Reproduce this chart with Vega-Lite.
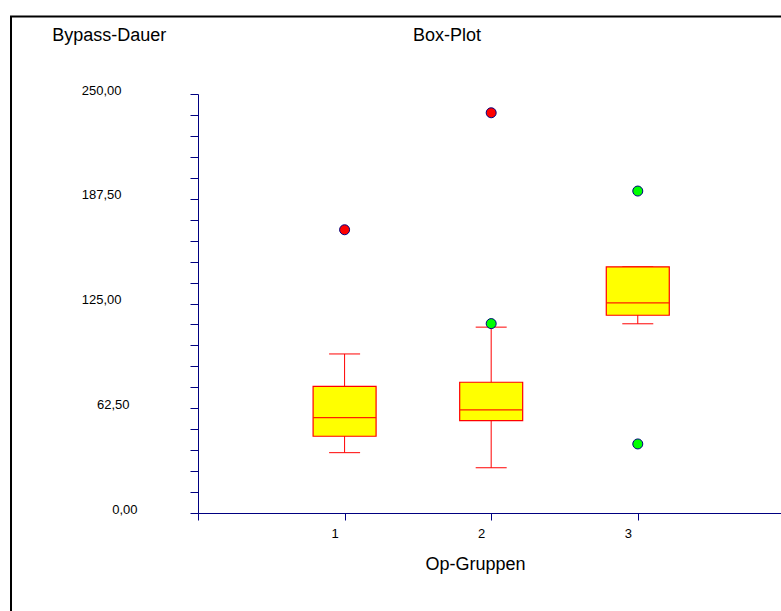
{
  "$schema": "https://vega.github.io/schema/vega-lite/v6.json",
  "width": 583,
  "height": 419,
  "autosize": {"type": "none"},
  "padding": {"left": 198, "top": 94, "right": 0, "bottom": 98},
  "background": "white",
  "config": {"view": {"stroke": null}, "font": "Liberation Sans"},
  "title": {
    "text": "Box-Plot",
    "font": "Liberation Sans",
    "fontSize": 18,
    "fontWeight": "normal",
    "color": "black",
    "anchor": "start",
    "frame": "group",
    "dx": 215,
    "baseline": "alphabetic",
    "offset": -43.7
  },
  "datasets": {
    "boxes": [
      {"gruppe": 1, "min": 36.0, "q1": 45.8, "median": 56.9, "q3": 75.6, "max": 94.9},
      {"gruppe": 2, "min": 27.0, "q1": 55.1, "median": 61.5, "q3": 78.0, "max": 110.9},
      {"gruppe": 3, "min": 112.9, "q1": 118.0, "median": 125.4, "q3": 146.9, "max": 146.9}
    ],
    "ausreisser": [
      {"gruppe": 1, "wert": 169.0, "art": "extrem"},
      {"gruppe": 2, "wert": 238.8, "art": "extrem"},
      {"gruppe": 2, "wert": 113.0, "art": "mild"},
      {"gruppe": 3, "wert": 192.1, "art": "mild"},
      {"gruppe": 3, "wert": 41.2, "art": "mild"}
    ]
  },
  "layer": [
    {
      "data": {"values": [{"teil": "Rahmen"}]},
      "mark": {"type": "rect", "fill": "transparent", "stroke": "#000000", "strokeWidth": 2, "clip": false},
      "encoding": {
        "x": {
          "datum": -1.2756,
          "type": "quantitative",
          "scale": {"domain": [0, 3.977], "nice": false, "zero": false, "padding": 0},
          "axis": {
            "values": [0, 1, 2, 3],
            "labelExpr": "datum.value == 0 ? '' : format(datum.value, 'd')",
            "grid": false,
            "domainColor": "#000080",
            "tickColor": "#000080",
            "tickSize": 7,
            "labelFont": "Liberation Sans",
            "labelFontSize": 13,
            "labelColor": "black",
            "labelOffset": -10,
            "labelPadding": 7,
            "labelFlush": false,
            "labelOverlap": false,
            "title": "Op-Gruppen",
            "titleFont": "Liberation Sans",
            "titleFontSize": 18,
            "titleFontWeight": "normal",
            "titleColor": "black",
            "titleX": 277,
            "titleY": 56.3,
            "titleAlign": "center",
            "titleBaseline": "alphabetic"
          }
        },
        "x2": {"datum": 4.3},
        "y": {
          "datum": 296.2,
          "type": "quantitative",
          "scale": {"domain": [0, 250], "nice": false, "zero": false, "padding": 0},
          "axis": {
            "values": [0, 12.5, 25, 37.5, 50, 62.5, 75, 87.5, 100, 112.5, 125, 137.5, 150, 162.5, 175, 187.5, 200, 212.5, 225, 237.5, 250],
            "labelExpr": "datum.value % 62.5 == 0 ? replace(format(datum.value, '.2f'), '.', ',') : ''",
            "grid": false,
            "domainColor": "#000080",
            "tickColor": "#000080",
            "tickSize": 8,
            "labelFont": "Liberation Sans",
            "labelFontSize": 13,
            "labelColor": "black",
            "labelAlign": "right",
            "labelBaseline": "alphabetic",
            "labelPadding": {"condition": [{"test": "datum.value == 0", "value": 53}, {"test": "datum.value == 62.5", "value": 61}], "value": 69},
            "labelFlush": false,
            "labelOverlap": false,
            "labelBound": false,
            "title": "Bypass-Dauer",
            "titleFont": "Liberation Sans",
            "titleFontSize": 18,
            "titleFontWeight": "normal",
            "titleColor": "black",
            "titleAngle": 0,
            "titleX": -146.3,
            "titleY": -53.6,
            "titleAlign": "left",
            "titleBaseline": "alphabetic"
          }
        },
        "y2": {"datum": -64}
      }
    },
    {
      "encoding": {
        "x": {
          "field": "gruppe",
          "type": "quantitative",
          "scale": {"domain": [0, 3.977], "nice": false, "zero": false, "padding": 0},
          "axis": {
            "values": [0, 1, 2, 3],
            "labelExpr": "datum.value == 0 ? '' : format(datum.value, 'd')",
            "grid": false,
            "domainColor": "#000080",
            "tickColor": "#000080",
            "tickSize": 7,
            "labelFont": "Liberation Sans",
            "labelFontSize": 13,
            "labelColor": "black",
            "labelOffset": -10,
            "labelPadding": 7,
            "labelFlush": false,
            "labelOverlap": false,
            "title": "Op-Gruppen",
            "titleFont": "Liberation Sans",
            "titleFontSize": 18,
            "titleFontWeight": "normal",
            "titleColor": "black",
            "titleX": 277,
            "titleY": 56.3,
            "titleAlign": "center",
            "titleBaseline": "alphabetic"
          }
        },
        "y": {
          "type": "quantitative",
          "scale": {"domain": [0, 250], "nice": false, "zero": false, "padding": 0},
          "axis": {
            "values": [0, 12.5, 25, 37.5, 50, 62.5, 75, 87.5, 100, 112.5, 125, 137.5, 150, 162.5, 175, 187.5, 200, 212.5, 225, 237.5, 250],
            "labelExpr": "datum.value % 62.5 == 0 ? replace(format(datum.value, '.2f'), '.', ',') : ''",
            "grid": false,
            "domainColor": "#000080",
            "tickColor": "#000080",
            "tickSize": 8,
            "labelFont": "Liberation Sans",
            "labelFontSize": 13,
            "labelColor": "black",
            "labelAlign": "right",
            "labelBaseline": "alphabetic",
            "labelPadding": {"condition": [{"test": "datum.value == 0", "value": 53}, {"test": "datum.value == 62.5", "value": 61}], "value": 69},
            "labelFlush": false,
            "labelOverlap": false,
            "labelBound": false,
            "title": "Bypass-Dauer",
            "titleFont": "Liberation Sans",
            "titleFontSize": 18,
            "titleFontWeight": "normal",
            "titleColor": "black",
            "titleAngle": 0,
            "titleX": -146.3,
            "titleY": -53.6,
            "titleAlign": "left",
            "titleBaseline": "alphabetic"
          }
        }
      },
      "layer": [
        {
          "data": {"name": "boxes"},
          "mark": {"type": "rule", "color": "#ff0000", "strokeWidth": 1},
          "encoding": {
            "y": {"field": "min", "type": "quantitative"},
            "y2": {"field": "max"}
          }
        },
        {
          "data": {"name": "boxes"},
          "mark": {"type": "tick", "orient": "horizontal", "color": "#ff0000", "size": 31, "thickness": 1, "opacity": 1},
          "encoding": {
            "y": {"field": "min", "type": "quantitative"}
          }
        },
        {
          "data": {"name": "boxes"},
          "mark": {"type": "tick", "orient": "horizontal", "color": "#ff0000", "size": 31, "thickness": 1, "opacity": 1},
          "encoding": {
            "y": {"field": "max", "type": "quantitative"}
          }
        },
        {
          "data": {"name": "boxes"},
          "mark": {"type": "bar", "orient": "vertical", "size": 63, "fill": "#ffff00", "stroke": "#ff0000", "strokeWidth": 1.2, "opacity": 1},
          "encoding": {
            "y": {"field": "q1", "type": "quantitative"},
            "y2": {"field": "q3"}
          }
        },
        {
          "data": {"name": "boxes"},
          "mark": {"type": "tick", "orient": "horizontal", "color": "#ff2000", "size": 63, "thickness": 1.2, "opacity": 1},
          "encoding": {
            "y": {"field": "median", "type": "quantitative"}
          }
        },
        {
          "data": {"name": "ausreisser"},
          "mark": {"type": "point", "shape": "circle", "filled": true, "size": 100, "stroke": "#000080", "strokeWidth": 1, "opacity": 1},
          "encoding": {
            "y": {"field": "wert", "type": "quantitative"},
            "fill": {
              "field": "art",
              "type": "nominal",
              "scale": {"domain": ["extrem", "mild"], "range": ["#ff0000", "#00ff00"]},
              "legend": null
            }
          }
        }
      ]
    }
  ]
}
